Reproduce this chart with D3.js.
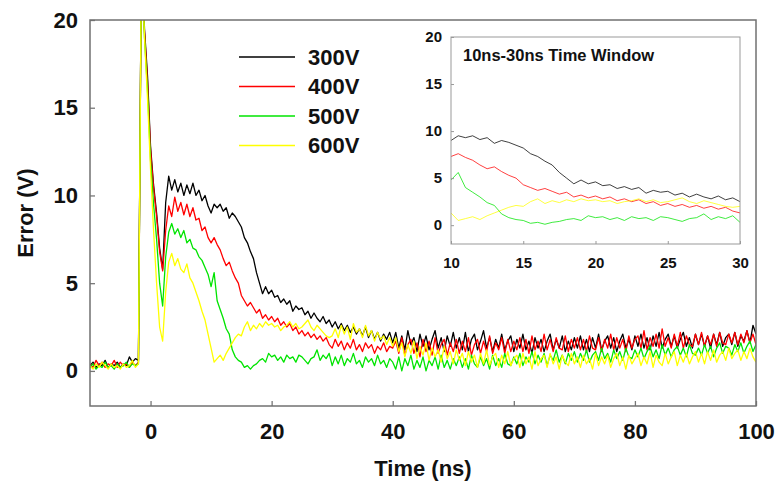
<!DOCTYPE html>
<html>
<head>
<meta charset="utf-8">
<script src="https://cdn.jsdelivr.net/npm/d3@7"></script>
<style>
body { margin: 0; background: #fff; }
text { font-family: Arial, "Liberation Sans", sans-serif; font-weight: bold; fill: #111; }
</style>
</head>
<body>
<svg id="chart" width="778" height="488"></svg>
<script>
// sampled every 0.5 ns starting at -10 ns
var tStart = -10, tStep = 0.5

var v300 = [
    0.3,0.5,0.2,0.4,0.3,0.6,0.2,0.4,0.3,0.5,0.2,0.4,0.3,0.8,0.5,0.7,
    0.6,
    24,19.5,16.8,12.8,10.6,9.0,7.0,5.8,9.6,11.1,10.3,10.9,10.2,10.7,10.0,10.6,10.1,10.7,10.0,10.3,9.7,10.0,9.4,
    9.0,9.5,9.3,9.5,9.1,9.3,8.7,9.0,8.8,8.5,8.2,7.6,7.3,6.8,6.4,5.6,5.0,4.4,4.8,4.4,
    4.6,4.2,4.3,3.9,4.1,3.8,4.0,3.4,3.7,3.5,3.6,3.2,3.4,3.0,3.3,3.0,2.8,3.1,2.7,2.9,2.5,
    2.8,2.4,2.7,2.3,2.6,2.2,2.5,2.1,2.4,2.0,2.5,1.9,2.3,1.8,2.2,1.7,2.1,1.8,2.2,1.6,
    2.2,1.3,2.0,1.2,2.3,1.5,1.9,1.1,2.1,1.4,2.0,1.2,1.8,2.3,1.3,1.9,1.1,2.0,1.4,2.2,
    1.3,1.9,1.2,2.2,1.1,1.8,2.1,1.2,1.7,2.3,1.3,1.9,1.1,1.8,1.3,2.1,1.2,1.7,2.0,1.1,
    1.8,1.3,2.1,1.2,1.7,1.0,1.9,1.3,1.8,1.1,1.7,2.1,1.2,1.8,1.3,2.0,1.1,1.7,1.2,1.9,
    1.3,2.0,1.2,1.8,1.1,1.9,1.3,2.1,1.2,1.7,2.0,1.3,1.9,1.1,1.7,2.1,1.3,1.8,1.2,2.0,
    1.4,2.1,1.3,1.9,1.2,2.0,1.4,2.2,1.3,1.8,2.1,1.4,2.0,1.3,1.8,2.2,1.4,1.9,1.3,2.1,
    1.5,2.1,1.4,2.0,1.3,2.1,1.5,2.2,1.4,1.9,2.1,1.5,2.2,1.4,2.0,1.7,2.3,1.6,2.6,2.1
]

var v400 = [
    0.4,0.2,0.6,0.3,0.5,0.2,0.4,0.3,0.6,0.2,0.5,0.3,0.4,0.2,0.5,0.3,
    0.5,
    24,19.3,16.5,12.6,10.4,8.8,6.8,5.7,8.0,9.4,8.8,9.9,9.1,9.6,8.9,9.5,8.8,9.3,8.6,8.7,8.0,8.2,7.6,
    7.3,7.6,7.2,6.9,6.4,6.0,6.2,5.7,5.3,5.0,4.3,4.0,3.7,3.9,3.6,3.3,3.5,3.0,3.2,2.9,
    3.1,2.8,3.0,2.6,2.8,2.5,2.7,2.3,2.5,2.1,2.3,2.0,2.2,1.9,2.1,1.8,2.0,1.7,1.9,1.5,1.3,
    1.8,1.4,1.7,1.2,1.6,1.3,1.8,1.2,1.5,1.1,1.6,1.3,1.5,1.0,1.4,1.2,1.6,1.1,1.4,1.3,
    1.7,1.0,1.9,0.9,1.5,1.8,1.0,1.6,0.8,1.8,1.1,1.7,0.9,1.9,1.0,1.5,1.8,0.9,1.6,1.1,
    1.8,1.0,1.7,1.1,1.9,0.9,1.5,1.8,1.0,1.7,1.1,2.0,1.0,1.6,1.2,1.9,1.0,1.8,1.1,1.7,
    1.2,1.9,1.1,1.8,1.0,2.0,1.2,1.7,1.1,2.1,1.2,1.8,1.1,1.9,1.3,1.2,2.0,1.1,1.8,1.3,
    1.9,1.2,1.8,1.1,2.0,1.3,1.2,1.9,1.1,1.8,1.3,2.1,1.2,1.9,1.3,1.8,1.1,2.0,1.3,1.8,
    2.0,1.3,2.3,1.2,1.9,1.4,2.1,1.3,2.4,1.4,1.9,1.3,2.1,1.4,2.2,1.3,2.0,1.5,1.4,2.1,
    1.5,2.2,1.4,2.0,1.5,2.1,1.4,2.2,1.6,1.5,2.1,1.6,2.2,1.5,2.1,1.6,2.3,1.6,2.1,1.5
]

var v500 = [
    0.2,0.4,0.1,0.3,0.2,0.5,0.2,0.3,0.1,0.4,0.2,0.3,0.5,0.2,0.4,0.3,
    0.4,
    24,19.0,16.0,12.0,9.5,7.5,5.0,3.7,6.5,7.9,8.4,7.8,8.1,7.6,8.0,7.3,7.5,7.0,6.9,6.5,6.3,5.9,5.5,
    4.8,5.6,4.0,3.5,3.0,2.4,2.1,1.2,0.8,0.6,0.5,0.2,0.3,0.1,0.3,0.4,0.6,0.7,0.5,1.0,
    0.8,0.9,0.6,0.8,0.5,0.9,0.7,0.8,0.5,0.9,0.8,0.6,0.4,0.7,0.8,1.2,0.6,0.9,0.7,1.0,0.3,
    0.8,0.4,0.9,0.3,0.7,0.5,1.0,0.4,0.6,0.2,0.8,0.5,0.7,0.3,0.9,0.4,0.6,0.2,0.7,0.5,
    0.1,0.8,0.0,0.7,0.3,0.9,0.1,0.6,0.2,0.8,0.0,0.6,0.3,0.8,0.1,0.9,0.2,0.6,0.1,0.7,
    0.3,0.8,0.2,0.7,0.1,0.9,0.4,0.2,0.8,0.3,0.7,0.1,0.9,0.3,0.7,0.2,1.0,0.4,0.3,0.8,
    0.4,1.0,0.3,0.8,0.5,1.1,0.4,0.9,0.5,1.0,0.3,0.9,0.6,1.2,0.5,0.9,0.4,1.0,0.6,1.1,
    0.5,1.0,0.6,1.2,0.5,0.9,1.1,0.6,1.3,0.7,1.0,0.5,1.2,0.7,1.1,0.6,1.3,0.8,0.7,1.2,
    0.8,1.3,0.7,1.1,1.4,0.8,1.2,0.7,1.5,0.9,1.3,0.8,1.2,1.4,0.9,1.3,0.8,1.5,1.0,0.9,
    1.3,0.9,1.5,1.0,1.4,0.8,1.3,1.6,1.0,1.4,1.3,0.9,1.5,1.1,1.6,1.0,1.4,1.7,1.1,1.5
]

var v600 = [
    0.3,0.1,0.4,0.2,0.5,0.3,0.1,0.4,0.2,0.3,0.1,0.4,0.2,0.3,0.6,0.2,
    0.4,
    24,19.0,15.5,11.5,8.0,5.0,2.5,1.7,4.5,6.2,6.7,6.0,6.4,5.8,5.6,6.1,5.3,5.0,4.5,4.0,3.4,2.9,2.1,
    1.3,0.5,0.7,0.9,0.6,1.0,1.3,1.6,1.9,2.1,2.0,2.5,2.8,2.3,2.6,2.4,2.7,2.5,2.8,2.6,
    2.7,2.5,2.6,2.3,2.5,2.6,2.8,2.5,2.7,2.4,2.5,2.7,2.9,2.5,2.3,2.6,2.4,2.2,2.0,1.9,2.0,
    2.4,1.9,2.6,2.1,2.5,1.8,2.7,2.2,2.4,1.9,2.6,2.0,2.3,1.7,2.2,1.8,2.0,1.5,1.9,1.4,
    1.9,1.1,1.6,0.8,1.5,1.0,1.7,0.7,1.4,0.9,1.6,0.6,1.3,0.8,1.2,0.5,1.4,0.7,1.1,0.4,
    1.2,0.6,1.0,0.3,1.1,0.5,0.9,0.2,1.0,0.4,1.2,0.3,0.8,1.0,0.2,0.9,0.4,1.1,0.3,0.7,
    0.9,0.2,1.0,0.4,0.8,0.1,1.1,0.3,0.7,0.9,0.2,1.0,0.4,0.8,0.1,0.9,0.5,0.3,1.0,0.4,
    0.8,0.2,0.9,0.4,0.7,0.1,1.0,0.3,0.8,0.4,0.9,0.2,0.7,1.0,0.3,0.8,0.1,0.9,0.4,0.7,
    1.0,0.3,0.8,0.4,1.1,0.2,0.9,0.5,0.3,1.0,0.4,0.8,1.1,0.3,0.9,0.5,1.0,0.4,0.8,1.1,
    0.5,1.0,0.4,1.1,0.6,1.2,0.5,0.9,1.1,0.6,1.3,0.7,1.0,1.2,0.6,1.1,0.7,1.3,0.8,0.5
]

var labels = ["300V", "400V", "500V", "600V"]
var colors = ["#000000", "#ff0000", "#00e400", "#ffff00"]
var mainXTicks = [0, 20, 40, 60, 80, 100]
var mainYTicks = [0, 5, 10, 15, 20]
var insetXTicks = [10, 15, 20, 25, 30]
var insetYTicks = [0, 5, 10, 15, 20]

var time = d3.range(v300.length).map(i => tStart + i * tStep)
var series = [v300, v400, v500, v600].map((v, i) => ({ name: labels[i], color: colors[i], values: v }))

var svg = d3.select("#chart")

// main plot
var x = d3.scaleLinear().domain([-10, 100]).range([90, 756])
var y = d3.scaleLinear().domain([-2, 20]).range([406, 20])

svg.append("defs").append("clipPath").attr("id", "mainclip")
    .append("rect")
    .attr("x", 90).attr("y", 20).attr("width", 666).attr("height", 386)

var line = d3.line()
    .x(d => x(d[0]))
    .y(d => y(d[1]))

svg.append("g")
    .attr("clip-path", "url(#mainclip)")
    .selectAll("path")
    .data(series)
    .enter()
    .append("path")
        .attr("d", s => line(s.values.map((v, i) => [time[i], v])))
        .attr("fill", "none")
        .attr("stroke", s => s.color)
        .attr("stroke-width", 1.3)
        .attr("stroke-linejoin", "round")

var xAxis = svg.append("g")
    .attr("transform", "translate(0,406)")
    .call(d3.axisBottom(x).tickValues(mainXTicks).tickSizeInner(-5).tickSizeOuter(0).tickPadding(17))
var yAxis = svg.append("g")
    .attr("transform", "translate(90,0)")
    .call(d3.axisLeft(y).tickValues(mainYTicks).tickSizeInner(-5).tickSizeOuter(0).tickPadding(12))
;[xAxis, yAxis].forEach(a => {
    a.select(".domain").remove()
    a.selectAll(".tick line").attr("stroke", "#777").attr("stroke-width", 1.3)
    a.selectAll(".tick text").attr("font-size", 22).attr("font-family", null).attr("fill", "#111")
})

svg.append("rect")
    .attr("x", 90).attr("y", 20).attr("width", 666).attr("height", 386)
    .attr("fill", "none")
    .attr("stroke", "#707070")
    .attr("stroke-width", 1.5)

svg.append("text")
    .attr("x", 423).attr("y", 476)
    .attr("text-anchor", "middle")
    .attr("font-size", 22)
    .text("Time (ns)")
svg.append("text")
    .attr("transform", "translate(33,213) rotate(-90)")
    .attr("text-anchor", "middle")
    .attr("font-size", 22)
    .text("Error (V)")

// legend
var legend = svg.append("g")
    .selectAll("g")
    .data(series)
    .enter()
    .append("g")
        .attr("transform", (d, i) => "translate(239," + (57 + i * 29.5) + ")")
legend.append("line")
    .attr("x1", 0).attr("x2", 56)
    .attr("stroke", d => d.color)
    .attr("stroke-width", 1.6)
legend.append("text")
    .attr("x", 69).attr("dy", "0.36em")
    .attr("font-size", 22)
    .text(d => d.name)

// inset 10ns-30ns
var xi = d3.scaleLinear().domain([10, 30]).range([451, 740])
var yi = d3.scaleLinear().domain([-2, 20]).range([244, 37])

svg.select("defs").append("clipPath").attr("id", "insetclip")
    .append("rect")
    .attr("x", 451).attr("y", 37).attr("width", 289).attr("height", 207)

svg.append("rect")
    .attr("x", 451).attr("y", 37).attr("width", 289).attr("height", 207)
    .attr("fill", "#fff")

var lineInset = d3.line()
    .x(d => xi(d[0]))
    .y(d => yi(d[1]))

svg.append("g")
    .attr("clip-path", "url(#insetclip)")
    .selectAll("path")
    .data(series)
    .enter()
    .append("path")
        .attr("d", s => lineInset(s.values.map((v, i) => [time[i], v]).filter(d => d[0] >= 10 && d[0] <= 30)))
        .attr("fill", "none")
        .attr("stroke", s => s.color)
        .attr("stroke-width", 1)
        .attr("stroke-opacity", 0.75)
        .attr("stroke-linejoin", "round")

var xiAxis = svg.append("g")
    .attr("transform", "translate(0,244)")
    .call(d3.axisBottom(xi).tickValues(insetXTicks).tickSizeInner(-3).tickSizeOuter(0).tickPadding(13))
var yiAxis = svg.append("g")
    .attr("transform", "translate(451,0)")
    .call(d3.axisLeft(yi).tickValues(insetYTicks).tickSizeInner(-3).tickSizeOuter(0).tickPadding(9))
;[xiAxis, yiAxis].forEach(a => {
    a.select(".domain").remove()
    a.selectAll(".tick line").attr("stroke", "#999")
    a.selectAll(".tick text").attr("font-size", 15).attr("font-family", null).attr("fill", "#111")
})

svg.append("rect")
    .attr("x", 451).attr("y", 37).attr("width", 289).attr("height", 207)
    .attr("fill", "none")
    .attr("stroke", "#999")
    .attr("stroke-width", 1)

svg.append("text")
    .attr("x", 463).attr("y", 61)
    .attr("font-size", 16.5)
    .text("10ns-30ns Time Window")
</script>
</body>
</html>
